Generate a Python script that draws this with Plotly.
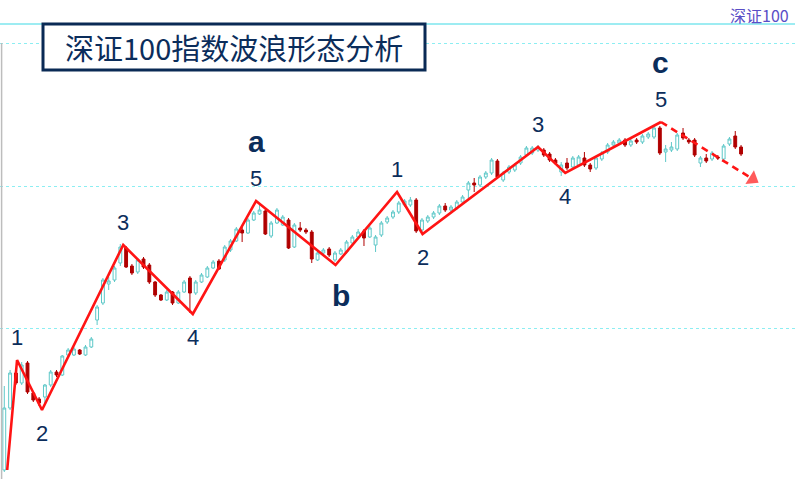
import plotly.graph_objects as go

# daily candles of the 深证100 index (price units)
days = list(range(128))
open_ = [9, 71, 106, 96, 116, 86, 80, 82, 94, 107,
         104, 124, 124, 129, 124, 132, 159, 176, 195, 199,
         216, 231, 213, 207, 220, 214, 197, 184, 179, 187,
         176, 187, 201, 186, 197, 202, 211, 218, 219, 229,
         238, 249, 246, 259, 265, 268, 243, 256, 254, 259,
         232, 251, 249, 247, 219, 226, 230, 219, 225, 227,
         236, 242, 248, 242, 234, 244, 257, 262, 267, 274,
         274, 279, 249, 258, 262, 266, 273, 269, 271, 277,
         289, 296, 294, 302, 306, 318, 299, 307, 309, 316,
         324, 326, 329, 329, 325, 319, 307, 316, 312, 314,
         321, 314, 311, 320, 327, 334, 336, 339, 334, 339,
         337, 342, 342, 351, 327, 329, 330, 346, 339, 339,
         316, 321, 320, 322, 320, 335, 343, 332]
high = [93, 109, 109, 117, 118, 88, 82, 95, 109, 109,
        124, 131, 132, 130, 134, 142, 174, 201, 202, 213,
        235, 233, 215, 221, 222, 216, 198, 185, 189, 188,
        189, 199, 203, 199, 206, 213, 219, 220, 234, 240,
        252, 253, 261, 268, 274, 270, 258, 271, 264, 261,
        256, 257, 251, 249, 228, 231, 232, 228, 231, 239,
        244, 250, 250, 253, 244, 258, 263, 269, 278, 280,
        282, 281, 261, 264, 268, 275, 276, 274, 279, 284,
        298, 301, 304, 308, 321, 320, 308, 314, 316, 324,
        333, 333, 334, 331, 327, 321, 317, 321, 323, 324,
        327, 316, 323, 328, 336, 339, 341, 341, 340, 341,
        345, 347, 353, 353, 334, 337, 346, 351, 341, 341,
        323, 325, 328, 324, 335, 342, 348, 334]
low = [7, 69, 94, 94, 85, 77, 73, 74, 92, 102,
       103, 123, 123, 124, 123, 131, 154, 174, 189, 197,
       213, 211, 204, 205, 210, 195, 182, 178, 178, 174,
       175, 186, 166, 184, 196, 201, 210, 209, 217, 227,
       237, 237, 245, 258, 264, 244, 241, 255, 253, 230,
       231, 247, 245, 216, 218, 224, 222, 217, 224, 225,
       233, 240, 233, 241, 227, 242, 255, 260, 265, 272,
       272, 246, 247, 256, 260, 264, 267, 267, 269, 275,
       280, 287, 292, 300, 304, 300, 297, 305, 307, 314,
       322, 324, 327, 322, 317, 314, 303, 309, 310, 312,
       312, 307, 309, 318, 325, 332, 334, 332, 332, 335,
       335, 340, 340, 324, 317, 327, 328, 339, 335, 322,
       312, 316, 318, 319, 318, 333, 330, 323]
close = [71, 106, 96, 114, 87, 79, 76, 94, 107, 104,
         123, 129, 130, 125, 132, 140, 172, 199, 198, 211,
         232, 212, 206, 219, 212, 197, 184, 179, 187, 176,
         187, 197, 186, 197, 204, 211, 217, 210, 232, 238,
         250, 246, 259, 266, 269, 245, 256, 269, 262, 231,
         254, 249, 247, 220, 226, 229, 224, 226, 229, 237,
         242, 247, 241, 251, 242, 256, 261, 267, 276, 278,
         279, 248, 259, 262, 266, 273, 269, 272, 277, 282,
         296, 294, 302, 306, 319, 302, 306, 312, 314, 322,
         331, 331, 332, 324, 319, 316, 314, 311, 321, 322,
         314, 310, 321, 326, 334, 337, 339, 334, 338, 337,
         343, 345, 351, 326, 330, 332, 344, 341, 337, 324,
         321, 318, 326, 321, 333, 340, 332, 325]

# hand-drawn wave count
pivot_x = [0.5, 2.2, 6.5, 20.5, 32.5, 43.4, 57.1, 67.7, 72.1, 92.0, 96.7, 113.2]
pivot_p = [9, 119, 69, 234, 165, 278, 214, 287, 245, 332, 306, 357]
wave_nums = ["", "1", "2", "3", "4", "5", "", "1", "2", "3", "4", "5"]
letter_idx = [5, 6, 11]
letters = ["a", "b", "c"]
forecast_x = [113.2, 129.0]
forecast_p = [357, 300]

grid_levels = [151, 293, 436]
top_level = 455

NAVY = "#0b2d5b"
RED = "#ff1414"

fig = go.Figure()
fig.add_trace(go.Candlestick(
    x=days, open=open_, high=high, low=low, close=close,
    increasing=dict(line=dict(color="#5ec8c8", width=1), fillcolor="white"),
    decreasing=dict(line=dict(color="#b00000", width=1), fillcolor="#b00000"),
))
fig.add_trace(go.Scatter(x=pivot_x, y=pivot_p, mode="lines",
                         line=dict(color=RED, width=2.6)))
fig.add_trace(go.Scatter(
    x=forecast_x, y=forecast_p, mode="lines+markers",
    line=dict(color=RED, width=2.6, dash="7px,5px"),
    marker=dict(symbol=["circle", "triangle-up"], size=[0, 14], color=RED,
                angleref="previous", line=dict(width=0)),
))

# wave labels above peaks / below troughs
for i in range(1, len(pivot_x)):
    peak = pivot_p[i] > pivot_p[i - 1]
    if wave_nums[i]:
        fig.add_annotation(x=pivot_x[i], y=pivot_p[i], text=wave_nums[i],
                           showarrow=False, yshift=23 if peak else -23,
                           font=dict(family="Liberation Sans", size=22, color=NAVY))
for k, i in enumerate(letter_idx):
    peak = pivot_p[i] > pivot_p[i - 1]
    shift = 60 if wave_nums[i] else 30
    fig.add_annotation(x=pivot_x[i], y=pivot_p[i], text="<b>%s</b>" % letters[k],
                       showarrow=False, yshift=shift if peak else -shift,
                       xshift=0 if wave_nums[i] else 5,
                       font=dict(family="Liberation Sans", size=30, color=NAVY))

fig.add_shape(type="line", xref="paper", x0=0, x1=1, yref="y", y0=top_level, y1=top_level,
              line=dict(color="#7de6ee", width=1.5))
fig.add_shape(type="line", xref="paper", x0=0.002, x1=0.002, yref="y", y0=0, y1=grid_levels[-1],
              line=dict(color="#bdbdbd", width=1.5))
fig.add_shape(type="rect", xref="paper", yref="paper",
              x0=43 / 795, x1=425 / 795, y0=1 - 70 / 479, y1=1 - 24 / 479,
              line=dict(color="#0a2a55", width=3), fillcolor="white")
fig.add_annotation(xref="paper", yref="paper", x=234 / 795, y=1 - 47 / 479,
                   xanchor="center", yanchor="middle",
                   text="深证100指数波浪形态分析", showarrow=False,
                   font=dict(family="Noto Sans CJK SC", size=29, color=NAVY))
fig.add_annotation(xref="paper", yref="paper", x=1, y=1, xanchor="right", yanchor="top",
                   xshift=-4, yshift=-1, text="深证100", showarrow=False,
                   font=dict(family="Noto Sans CJK SC", size=16, color="#5a4ec6"))

fig.update_layout(
    width=795, height=479, margin=dict(l=0, r=0, t=0, b=0),
    plot_bgcolor="white", paper_bgcolor="white", showlegend=False,
    xaxis=dict(visible=False, range=[-0.74, 136.3], rangeslider=dict(visible=False)),
    yaxis=dict(range=[0, 479], tickvals=grid_levels, showticklabels=False, ticks="",
               showgrid=True, gridcolor="#8ceef2", griddash="dot", gridwidth=1.2,
               zeroline=False, showline=False),
)

fig.write_html("out.html", config={"displayModeBar": False},
               post_script="document.body.style.margin='0';")
